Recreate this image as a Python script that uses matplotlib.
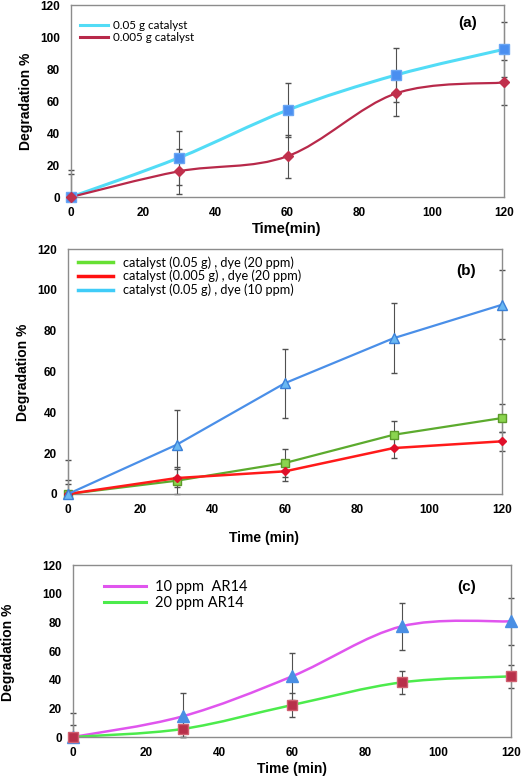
import matplotlib
matplotlib.use("Agg")
import matplotlib.pyplot as plt
import numpy as np
from matplotlib.path import Path
from matplotlib.patches import PathPatch
from matplotlib.lines import Line2D

plt.rcParams['font.family'] = ['Liberation Sans', 'DejaVu Sans']

time = [0, 30, 60, 90, 120]

# panel (a)
a_cat05 = [0, 24.6, 54.3, 76.2, 92.3]
a_cat05_err = [16.8, 16.8, 16.8, 16.8, 17.0]
a_cat005 = [0, 16.1, 25.5, 64.7, 71.6]
a_cat005_err = [14.3, 14.0, 13.5, 14.0, 13.8]

# panel (b)
b_green = [0, 6.5, 15.2, 29.0, 37.2]
b_green_err = [6.9, 6.7, 7.0, 7.0, 6.8]
b_red = [0, 7.8, 11.1, 22.5, 25.8]
b_red_err = [4.9, 4.6, 4.9, 4.9, 4.6]
b_blue = [0, 24.1, 54.3, 76.3, 92.7]
b_blue_err = [16.8, 17.2, 16.9, 17.2, 17.0]

# panel (c)
c_10ppm = [0, 14.4, 42.3, 77.2, 80.7]
c_10ppm_err = [16.5, 16.3, 16.3, 16.3, 16.5]
c_20ppm = [0, 5.6, 22.3, 38.1, 42.3]
c_20ppm_err = [8.1, 8.1, 8.4, 7.8, 8.1]

W, H = 529, 779
ERR = '#505050'
SPINE = '#8c8c8c'


def smooth_line(ax, x, y, color, lw):
    # excel style smoothed line (bezier through the points)
    pts = np.column_stack([x, y]).astype(float)
    n = len(pts)
    verts = [pts[0]]
    codes = [Path.MOVETO]
    for i in range(n - 1):
        p0 = pts[i - 1] if i > 0 else pts[i]
        p1 = pts[i]
        p2 = pts[i + 1]
        p3 = pts[i + 2] if i + 2 < n else pts[i + 1]
        verts += [p1 + (p2 - p0) / 6, p2 - (p3 - p1) / 6, p2]
        codes += [Path.CURVE4] * 3
    ax.add_patch(PathPatch(Path(verts, codes), fill=False, edgecolor=color,
                           lw=lw, capstyle='round', zorder=2))


def errbars(ax, vals, err):
    # bars stop at the x axis like in the original
    lower = np.minimum(err, vals)
    ax.errorbar(time, vals, yerr=[lower, err], fmt='none', ecolor=ERR,
                elinewidth=0.8, capsize=2.5, clip_on=False, zorder=1)


def setup(ax):
    ax.set_xlim(0, 120)
    ax.set_ylim(0, 120)
    ax.set_xticks(range(0, 121, 20))
    ax.set_yticks(range(0, 121, 20))
    ax.tick_params(length=0, labelsize=8.5)
    ax.tick_params(axis='y', pad=8)
    ax.tick_params(axis='x', pad=7)
    for lab in ax.get_xticklabels() + ax.get_yticklabels():
        lab.set_fontweight('bold')
    for s in ax.spines.values():
        s.set_color(SPINE)
        s.set_linewidth(1)


def axes_px(l, r, t, b):
    return fig.add_axes([l / W, 1 - b / H, (r - l) / W, (b - t) / H])


def ftext(x, y, s, **kw):
    fig.text(x / W, 1 - y / H, s, ha='center', va='center', **kw)


def legend(ax, handles, labels, x, y, size, hl, tp, ls):
    ax.legend(handles, labels, loc='upper left', bbox_to_anchor=(x, y),
              frameon=False, prop={'family': 'Lato', 'size': size},
              handlelength=hl, handletextpad=tp, labelspacing=ls,
              borderpad=0, borderaxespad=0)


fig = plt.figure(figsize=(W / 100, H / 100), dpi=100)

# ---------------- (a)
ax = axes_px(71, 504, 5, 197)
setup(ax)
errbars(ax, a_cat05, a_cat05_err)
errbars(ax, a_cat005, a_cat005_err)
smooth_line(ax, time, a_cat05, '#52dcf6', 2.2)
smooth_line(ax, time, a_cat005, '#b8294a', 1.6)
ax.plot(time, a_cat05, 's', color='#4a8ff0', mec='#6aa6f4', ms=7.5,
        clip_on=False, zorder=3)
ax.plot(time, a_cat005, 'D', color='#c0304c', ms=5, clip_on=False, zorder=3)
legend(ax, [Line2D([], [], color='#52dcf6', lw=2.2),
            Line2D([], [], color='#b8294a', lw=2.2)],
       ['0.05 g catalyst', '0.005 g catalyst'],
       0.021, 0.924, 8.4, 2.43, 0.43, 0.1)
ftext(468, 23, '(a)', fontsize=11, fontweight='bold')
ftext(26, 101, 'Degradation %', fontsize=10, fontweight='bold', rotation=90)
ftext(287, 229, 'Time(min)', fontsize=10.5, fontweight='bold')

# ---------------- (b)
ax = axes_px(68, 502, 249, 494)
setup(ax)
errbars(ax, b_green, b_green_err)
errbars(ax, b_red, b_red_err)
errbars(ax, b_blue, b_blue_err)
ax.plot(time, b_green, '-s', color='#5cab2e', mfc='#8bd44f', mec='#5c9a2a',
        lw=1.6, ms=6, clip_on=False, zorder=3)
ax.plot(time, b_red, '-D', color='#ff1a1a', mfc='#e0102a', mec='#e0102a',
        lw=1.8, ms=4.5, clip_on=False, zorder=3)
ax.plot(time, b_blue, '-^', color='#4a8fe8', mfc='#6ab8f2', mec='#3a80d8',
        lw=1.6, ms=6.5, clip_on=False, zorder=3)
legend(ax, [Line2D([], [], color='#66e033', lw=2.5),
            Line2D([], [], color='#ff1010', lw=2.5),
            Line2D([], [], color='#40ccf8', lw=2.5)],
       ['catalyst (0.05 g) , dye (20 ppm)',
        'catalyst (0.005 g) , dye (20 ppm)',
        'catalyst (0.05 g) , dye (10 ppm)'],
       0.023, 0.971, 9.2, 2.73, 0.78, 0.1)
ftext(466, 271, '(b)', fontsize=11, fontweight='bold')
ftext(23, 372, 'Degradation %', fontsize=10, fontweight='bold', rotation=90)
ftext(264, 538, 'Time (min)', fontsize=10, fontweight='bold')

# ---------------- (c)
ax = axes_px(73, 511, 565, 737)
setup(ax)
errbars(ax, c_10ppm, c_10ppm_err)
errbars(ax, c_20ppm, c_20ppm_err)
smooth_line(ax, time, c_10ppm, '#e055ee', 1.8)
smooth_line(ax, time, c_20ppm, '#4ceb4c', 1.8)
ax.plot(time, c_10ppm, '^', color='#4a8fe4', ms=8, clip_on=False, zorder=3)
ax.plot(time, c_20ppm, 's', color='#b8304a', mec='#d06070', ms=7,
        clip_on=False, zorder=3)
legend(ax, [Line2D([], [], color='#e055ee', lw=2.2),
            Line2D([], [], color='#4ceb4c', lw=2.2)],
       ['10 ppm  AR14', '20 ppm AR14'],
       0.071, 0.913, 10.5, 2.88, 0.62, 0.15)
ftext(467, 587, '(c)', fontsize=11, fontweight='bold')
ftext(8, 652, 'Degradation %', fontsize=10, fontweight='bold', rotation=90)
ftext(292, 769, 'Time (min)', fontsize=10, fontweight='bold')

fig.savefig('out.png', dpi=100)
